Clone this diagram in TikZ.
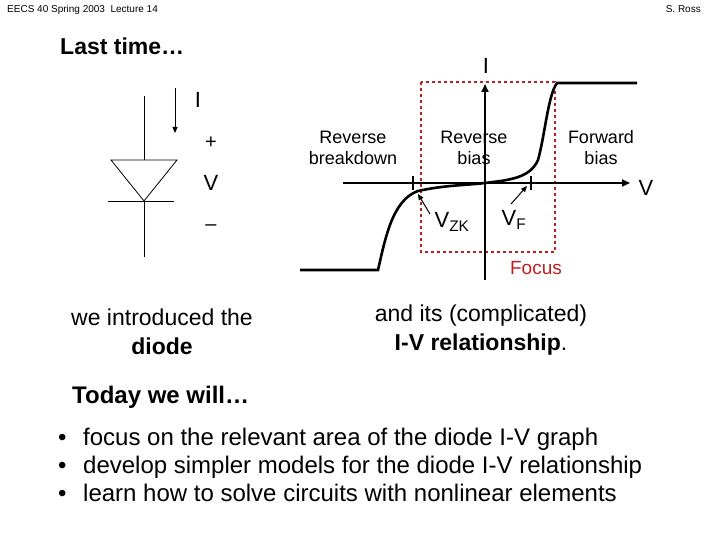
\documentclass[tikz,border=0pt]{standalone}
\usepackage{fontspec}
\setmainfont{Liberation Sans}
\usetikzlibrary{arrows.meta}
\definecolor{focusred}{RGB}{190,30,30}
\begin{document}
\begin{tikzpicture}[x=1pt,y=-1pt,
  txt/.style={inner sep=0pt,align=center,font=\fontsize{18}{21}\selectfont},
  thin/.style={line width=0.8pt},
  curve/.style={line width=2.6pt},
  axis/.style={line width=1.8pt,-{Triangle[length=8pt,width=7pt]}},
  small/.style={-{Triangle[length=6pt,width=5pt]},line width=1pt},
  bul/.style={inner sep=0pt,anchor=base west,font=\fontsize{24}{28}\selectfont}]
\useasboundingbox (0,0) rectangle (720,540);
\node[inner sep=0pt,anchor=base west,font=\fontsize{10}{11}\selectfont] (hdr) at (7,13) {EECS 40 Spring 2003\ \ Lecture 14};
\node[inner sep=0pt,anchor=base east,font=\fontsize{10}{11}\selectfont] (auth) at (701,13) {S. Ross};
\node[inner sep=0pt,anchor=west,font=\bfseries\fontsize{23}{26}\selectfont] (last) at (60,46) {Last time…};
% diode
\coordinate (dtop) at (144,96); \coordinate (dbot) at (144,257);
\draw[thin] (dtop) -- (144,160);
\draw[thin] (111,160) -- (177,160) -- (144,201) -- cycle;
\draw[thin] (108,201) -- (174,201);
\draw[thin] (144,201) -- (dbot);
\coordinate (ia) at (175,88); \coordinate (ib) at (175,133);
\draw[small] (ia) -- (ib);
\node[txt,font=\fontsize{22}{24}\selectfont] (il) at (198,100) {I};
\node[txt,font=\fontsize{20}{22}\selectfont] (plus) at (211,143) {+};
\node[txt,font=\fontsize{22}{24}\selectfont] (vl) at (211,183) {V};
\node[txt,font=\fontsize{20}{22}\selectfont] (minus) at (211,228) {–};
% graph
\draw[focusred,dashed,line width=1.3pt] (421,82) rectangle (555,252);
\coordinate (vb) at (485,280); \coordinate (vt) at (485,84);
\coordinate (hl) at (343,183); \coordinate (hr) at (630,183);
\draw[axis] (vb) -- (vt);
\draw[axis] (hl) -- (hr);
\draw[line width=1.2pt] (413,176) -- (413,190);
\draw[line width=1.2pt] (531,176) -- (531,190);
\draw[curve] (300,270) -- (378,270) .. controls (385,240) and (392,200) .. (418,191)
  .. controls (445,185) and (470,185) .. (485,183)
  .. controls (510,180) and (530,178) .. (538,160)
  .. controls (545,135) and (548,95) .. (557,83) -- (637,83);
\node[txt,font=\fontsize{22}{24}\selectfont] (gi) at (486,66) {I};
\node[txt,font=\fontsize{22}{24}\selectfont] (gv) at (646,188) {V};
\node[txt] (rbd) at (353,148) {Reverse\\breakdown};
\node[txt] (rb) at (474,148) {Reverse\\bias};
\node[txt] (fb) at (601,148) {Forward\\bias};
\node[txt,font=\fontsize{22}{24}\selectfont] (vzk) at (452,222) {V\textsubscript{ZK}};
\node[txt,font=\fontsize{22}{24}\selectfont] (vf) at (514,220) {V\textsubscript{F}};
\coordinate (kz) at (418,194); \coordinate (kf) at (527,186);
\draw[small] (430,214) -- (kz);
\draw[small] (511,204) -- (kf);
\node[txt,text=focusred,font=\fontsize{19}{22}\selectfont] (focus) at (536,268) {Focus};
% captions
\node[txt,font=\fontsize{23}{29}\selectfont] (intro) at (162,332) {we introduced the\\\textbf{diode}};
\node[txt,font=\fontsize{23}{29}\selectfont] (rel) at (481,330) {and its (complicated)\\\textbf{I-V relationship}.};
\node[inner sep=0pt,anchor=west,font=\bfseries\fontsize{24}{26}\selectfont] (today) at (72,397) {Today we will…};
\node[bul] (b1) at (58,445) {•};
\node[bul] (b2) at (58,473) {•};
\node[bul] (b3) at (58,501) {•};
\node[bul] (t1) at (83,445) {focus on the relevant area of the diode I-V graph};
\node[bul] (t2) at (83,473) {develop simpler models for the diode I-V relationship};
\node[bul] (t3) at (83,501) {learn how to solve circuits with nonlinear elements};
\end{tikzpicture}
\end{document}
